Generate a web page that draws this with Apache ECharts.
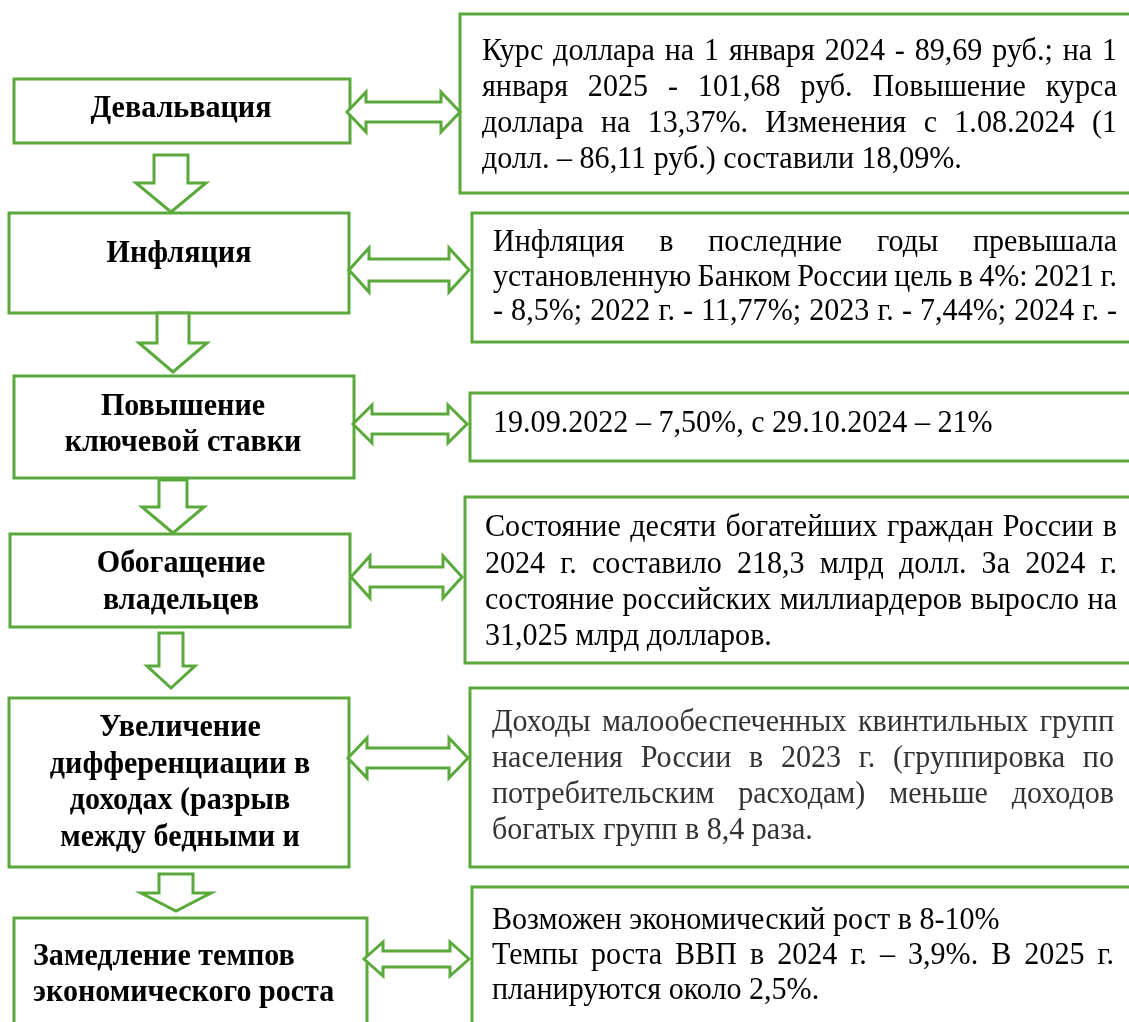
<!DOCTYPE html>
<html>
<head>
<meta charset="utf-8">
<script src="https://cdn.jsdelivr.net/npm/echarts@6/dist/echarts.min.js"></script>
<style>
  html, body { margin: 0; padding: 0; background: #fff; }
  #chart { width: 1129px; height: 1022px; }
</style>
</head>
<body>
<div id="chart"></div>
<script>
// 左侧因果链
const leftLabels = [
  ['Девальвация'],
  ['Инфляция'],
  ['Повышение', 'ключевой ставки'],
  ['Обогащение', 'владельцев'],
  ['Увеличение', 'дифференциации в', 'доходах (разрыв', 'между бедными и'],
  ['Замедление темпов', 'экономического роста'],
]

// 右侧说明
const noteLines = [
  ['Курс доллара на 1 января 2024 - 89,69 руб.; на 1',
   'января 2025 - 101,68 руб. Повышение курса',
   'доллара на 13,37%. Изменения с 1.08.2024 (1',
   'долл. – 86,11 руб.) составили 18,09%.'],
  ['Инфляция в последние годы превышала',
   'установленную Банком России цель в 4%: 2021 г.',
   '- 8,5%; 2022 г. - 11,77%; 2023 г. - 7,44%; 2024 г. -'],
  ['19.09.2022 – 7,50%, с 29.10.2024 – 21%'],
  ['Состояние десяти богатейших граждан России в',
   '2024 г. составило 218,3 млрд долл. За 2024 г.',
   'состояние российских миллиардеров выросло на',
   '31,025 млрд долларов.'],
  ['Доходы малообеспеченных квинтильных групп',
   'населения России в 2023 г. (группировка по',
   'потребительским расходам) меньше доходов',
   'богатых групп в 8,4 раза.'],
  ['Возможен экономический рост в 8-10%',
   'Темпы роста ВВП в 2024 г. – 3,9%. В 2025 г.',
   'планируются около 2,5%.'],
]
// lines that are not justified
const noteFlush = [[3], [], [0], [3], [3], [0, 2]]

// layout (pixel units of the picture)
const leftBoxes = [[14, 79, 350, 143], [9, 213, 349, 313], [14, 376, 354, 478], [10, 534, 350, 627], [9, 698, 349, 867], [14, 918, 367, 1040]]
const rightBoxes = [[460, 14, 1140, 193], [472, 213, 1140, 342], [470, 393, 1140, 461], [465, 497, 1140, 663], [470, 688, 1140, 867], [472, 887, 1140, 1040]]
// cx, top, neck, tip, shaft half width, head half width
const downArrows = [[171, 155, 183, 212, 17, 35], [173, 313, 343, 372, 16, 34], [173, 480, 507, 533, 14, 31], [171, 633, 666, 688, 12, 24], [176, 874, 893, 911, 17, 35]]
// x left tip, x right tip, cy, head length, shaft half, head half
const sideArrows = [[347, 460, 112, 19, 10, 20], [349, 469, 270, 20, 11, 22], [353, 467, 424, 19, 10, 19], [351, 462, 577, 19, 10, 21], [348, 468, 758, 19, 10, 20], [364, 469, 959, 19, 8, 17]]
// x, first line y, line height
const leftTextPos = [[181, 109, 36], [179, 254, 36], [183, 407, 36], [181, 564, 37], [180, 728, 36.5], [33, 957, 36]]
const leftTextAlign = ['center', 'center', 'center', 'center', 'center', 'left']
// x0, x1, first line y, line height
const notePos = [[482, 1117, 52, 36], [493, 1117, 243, 34.5], [493, 1117, 424, 36], [485, 1117, 528, 36.3], [492, 1114, 723, 36], [492, 1114, 921, 35]]
const noteColors = ['#000', '#000', '#000', '#000', '#333', '#000']

const GREEN = '#5aa93b'
const SERIF = '"Liberation Serif", "Times New Roman", serif'
const NOTE_SIZE = 32
const NOTE_SCALE = 0.94
const LABEL_SIZE = 31
const LABEL_SCALE = 0.97

const ctx = document.createElement('canvas').getContext('2d')
function measure(text, size, weight) {
  ctx.font = `${weight || 'normal'} ${size}px ${SERIF}`
  return ctx.measureText(text).width
}

function boxItem(params, api) {
  const p0 = api.coord([api.value(0), api.value(1)])
  const p1 = api.coord([api.value(2), api.value(3)])
  return {
    type: 'rect',
    shape: { x: p0[0], y: p0[1], width: p1[0] - p0[0], height: p1[1] - p0[1] },
    style: { fill: '#fff', stroke: GREEN, lineWidth: 3 },
  }
}

function downArrowItem(params, api) {
  const c = api.coord([api.value(0), api.value(1)])
  const neck = api.coord([api.value(0), api.value(2)])[1]
  const tip = api.coord([api.value(0), api.value(3)])[1]
  const s = api.value(4), h = api.value(5)
  const x = c[0], top = c[1]
  return {
    type: 'polygon',
    shape: { points: [[x - s, top], [x + s, top], [x + s, neck], [x + h, neck], [x, tip], [x - h, neck], [x - s, neck]] },
    style: { fill: '#fff', stroke: GREEN, lineWidth: 3, lineJoin: 'miter' },
  }
}

function sideArrowItem(params, api) {
  const a = api.coord([api.value(0), api.value(2)])
  const b = api.coord([api.value(1), api.value(2)])
  const L = api.value(3), S = api.value(4), H = api.value(5)
  const x0 = a[0], x1 = b[0], cy = a[1]
  return {
    type: 'polygon',
    shape: {
      points: [[x0, cy], [x0 + L, cy - H], [x0 + L, cy - S], [x1 - L, cy - S], [x1 - L, cy - H], [x1, cy],
        [x1 - L, cy + H], [x1 - L, cy + S], [x0 + L, cy + S], [x0 + L, cy + H]],
    },
    style: { fill: '#fff', stroke: GREEN, lineWidth: 3, lineJoin: 'miter' },
  }
}

function labelItem(params, api) {
  const i = params.dataIndex
  const p = api.coord([api.value(0), api.value(1)])
  const lh = api.size([0, api.value(2)])[1]
  return {
    type: 'group',
    children: leftLabels[i].map((line, k) => ({
      type: 'text',
      x: p[0], y: p[1] + k * lh, scaleX: LABEL_SCALE,
      style: {
        text: line, x: 0, y: 0,
        fontFamily: SERIF, fontSize: LABEL_SIZE, fontWeight: 'bold', fill: '#000',
        align: leftTextAlign[i], verticalAlign: 'middle',
      },
    })),
  }
}

function noteItem(params, api) {
  const i = params.dataIndex
  const p0 = api.coord([api.value(0), api.value(2)])
  const p1 = api.coord([api.value(1), api.value(2)])
  const lh = api.size([0, api.value(3)])[1]
  const children = []
  const word = (text, x, y) => ({
    type: 'text', x, y, scaleX: NOTE_SCALE,
    style: { text, x: 0, y: 0, fontFamily: SERIF, fontSize: NOTE_SIZE, fill: noteColors[i], verticalAlign: 'middle', align: 'left' },
  })
  noteLines[i].forEach((line, k) => {
    const y = p0[1] + k * lh
    const words = line.split(/\s+/)
    if (noteFlush[i].includes(k) || words.length < 2) {
      children.push(word(line, p0[0], y))
      return
    }
    // 两端对齐
    const widths = words.map(w => measure(w, NOTE_SIZE) * NOTE_SCALE)
    const total = widths.reduce((a, b) => a + b, 0)
    const gap = (p1[0] - p0[0] - total) / (words.length - 1)
    let x = p0[0]
    words.forEach((w, j) => {
      children.push(word(w, x, y))
      x += widths[j] + gap
    })
  })
  return { type: 'group', children }
}

const chart = echarts.init(document.getElementById('chart'), null, { renderer: 'canvas' })
chart.setOption({
  backgroundColor: '#fff',
  animation: false,
  grid: { left: 0, right: 0, top: 0, bottom: 0 },
  xAxis: { type: 'value', min: 0, max: 1129, show: false },
  yAxis: { type: 'value', min: 0, max: 1022, inverse: true, show: false },
  series: [
    { type: 'custom', name: 'rightBoxes', clip: true, silent: true, renderItem: boxItem, data: rightBoxes },
    { type: 'custom', name: 'leftBoxes', clip: true, silent: true, renderItem: boxItem, data: leftBoxes },
    { type: 'custom', name: 'downArrows', clip: true, silent: true, renderItem: downArrowItem, data: downArrows },
    { type: 'custom', name: 'sideArrows', clip: true, silent: true, renderItem: sideArrowItem, data: sideArrows },
    { type: 'custom', name: 'labels', clip: true, silent: true, renderItem: labelItem, data: leftTextPos },
    { type: 'custom', name: 'notes', clip: true, silent: true, renderItem: noteItem, data: notePos },
  ],
})
</script>
</body>
</html>
